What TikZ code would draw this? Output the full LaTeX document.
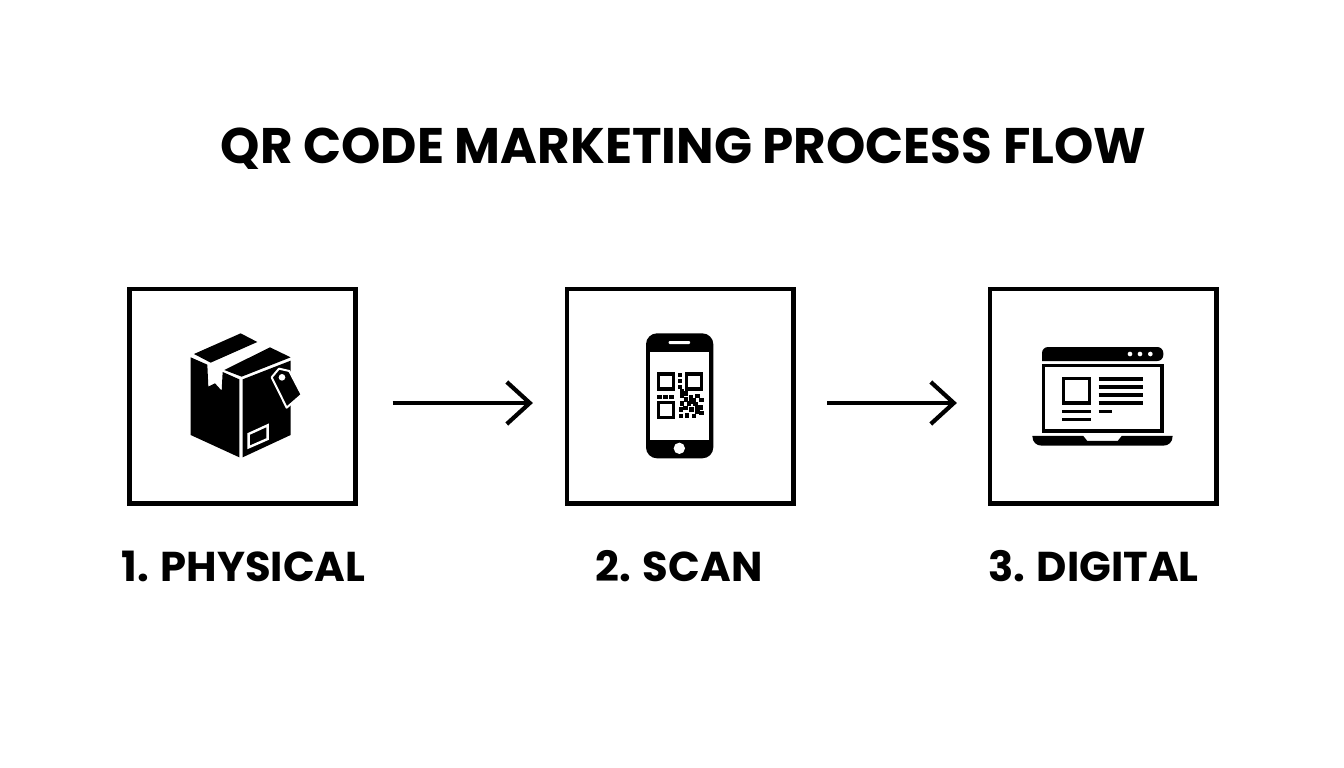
\documentclass[tikz,border=0pt]{standalone}
\usepackage{fontspec}
\setmainfont{Poppins}
\usetikzlibrary{arrows.meta}
\usetikzlibrary{positioning}

\tikzset{
    stepbox/.style={draw, line width=4.6pt, minimum width=226.4pt, minimum height=214.4pt, inner sep=0pt, outer sep=0pt},
    steplabel/.style={font=\fontsize{41.7}{44}\selectfont\bfseries},
    flowarrow/.style={line width=4.2pt, -{Straight Barb[length=23pt, width=42pt, line width=4.2pt]}},
    icon/.style={x=0.3333pt, y=-0.3333pt},
    whiteline/.style={draw=white, line width=2pt},
    inkline/.style={draw=black, line width=3.2pt}
}

\begin{document}
\begin{tikzpicture}[x=1pt, y=-1pt]
    \useasboundingbox (0,0) rectangle (1344,768);

    \node (title) at (683.5,149) {\fontsize{50}{54}\selectfont\bfseries QR CODE MARKETING PROCESS FLOW};

    \node[stepbox] (physical) at (242.5,396) {};
    \node[stepbox, right=211.2pt of physical.east, anchor=west] (scan) {};
    \node[stepbox, right=196.6pt of scan.east, anchor=west] (digital) {};

    \node[steplabel] (physicallabel) at (243.5,566) {1. PHYSICAL};
    \node[steplabel] (scanlabel) at (679,566) {2. SCAN};
    \node[steplabel] (digitallabel) at (1093.5,566) {3. DIGITAL};

    \draw[flowarrow, shorten <=37pt, shorten >=34pt] ([yshift=-7pt]physical.east) -- ([yshift=-7pt]scan.west);
    \draw[flowarrow, shorten <=34pt, shorten >=33pt] ([yshift=-7pt]scan.east) -- ([yshift=-7pt]digital.west);

    % box
    \begin{scope}[shift={(170,320)}, icon]
        \fill (72,102) -- (212,40) -- (262,66) -- (122,128) -- cycle;
        \fill (163,150) -- (300,82) -- (362,112) -- (215,170) -- cycle;
        \fill (62,112) -- (112,134) -- (115,200) -- (135,190) -- (155,212) -- (158,156) -- (208,178) -- (208,412) -- (62,345) -- cycle;
        \fill (218,178) -- (362,122) -- (362,345) -- (218,412) -- cycle;
        \filldraw[whiteline, fill=black, line join=round] (305,172) -- (327,146) -- (358,153) -- (395,224) -- (350,263) -- cycle;
        \fill[white] (336,172) circle (10);
        \draw[whiteline, line width=2.4pt] (236,342) -- (293,316) -- (293,357) -- (236,382) -- cycle;
    \end{scope}

    % phone
    \begin{scope}[shift={(630,320)}, icon]
        \fill[rounded corners=11pt] (48,40) rectangle (250,415);
        \fill[white] (60,95) rectangle (238,360);
        \fill[white, rounded corners=1pt] (116,63) rectangle (180,72);
        \fill[white] (148,385) circle (17);
        \foreach \qx/\qy in {85/162, 170/162, 85/247}
            \draw[inkline, line width=3.4pt] (\qx,\qy) rectangle ++(45,45);
        \foreach \qx/\qy in {144/158, 144/176, 144/194, 150/208, 82/224, 100/224, 118/224, 150/222, 162/232, 176/226, 196/222, 208/234, 150/244, 170/244, 190/246, 206/256, 146/262, 160/258, 178/262, 196/268, 208/272, 146/282, 164/280, 186/282, 160/214, 176/240, 186/234, 196/256}
            \fill (\qx,\qy) rectangle ++(13,13);
    \end{scope}

    % laptop
    \begin{scope}[shift={(1020,335)}, icon]
        \fill[rounded corners=6pt] (66,78) -- (66,36) -- (430,36) -- (430,78) [sharp corners] -- cycle;
        \foreach \dotx in {330,360,391}
            \fill[white] (\dotx,57) circle (7);
        \draw[inkline] (70,92) rectangle (426,288);
        \draw[inkline] (130,130) rectangle (208,204);
        \foreach \liney in {132,156,180,204}
            \draw[inkline] (236,\liney) -- (370,\liney);
        \draw[inkline] (236,229) -- (276,229);
        \draw[inkline] (126,229) -- (212,229);
        \draw[inkline] (126,253) -- (212,253);
        \fill (37,303) -- (190,303) -- (202,318) -- (293,318) -- (305,303) -- (458,303) .. controls (458,322) and (445,332) .. (430,332) -- (65,332) .. controls (50,332) and (37,322) .. (37,303) -- cycle;
    \end{scope}
\end{tikzpicture}
\end{document}
